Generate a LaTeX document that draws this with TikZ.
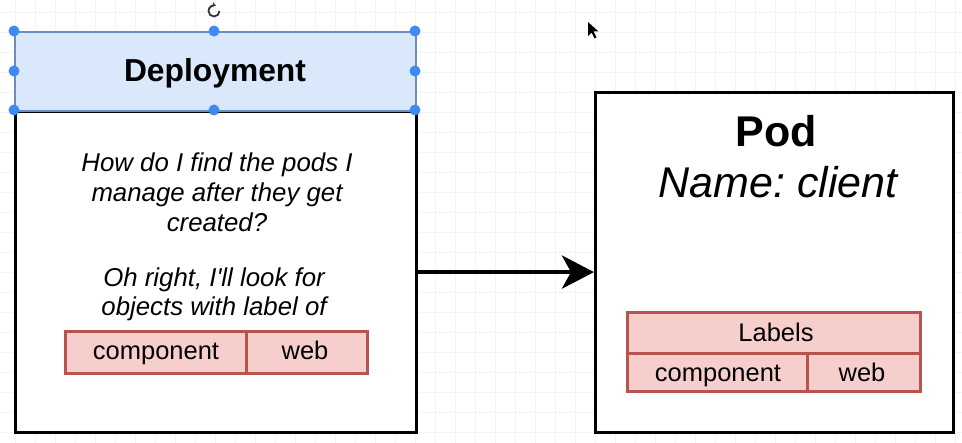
\documentclass[tikz,border=0pt]{standalone}
\usepackage{fontspec}
\setmainfont{Liberation Sans}
\usetikzlibrary{arrows.meta}
\definecolor{gridc}{HTML}{F3F3F3}
\definecolor{hdrfill}{HTML}{DAE8FC}
\definecolor{hdrline}{HTML}{6C8EBF}
\definecolor{handle}{HTML}{3D8BF2}
\definecolor{labfill}{HTML}{F6CFCC}
\definecolor{labline}{HTML}{B85450}
\tikzset{
  box/.style={draw=black, line width=3.2pt, fill=white, inner sep=0pt, anchor=north west},
  cell/.style={draw=labline, fill=labfill, line width=2.6pt, inner sep=0pt, anchor=north west},
  celltext/.style={anchor=base, inner sep=0pt, font=\fontsize{25.5}{30}\selectfont},
  bodytext/.style={anchor=base, inner sep=0pt, font=\fontsize{25.8}{30}\selectfont\itshape},
  hnd/.style={circle, fill=handle, inner sep=0pt, minimum size=11pt},
  bigarrow/.style={line width=4.8pt, -{Stealth[length=32pt, width=33pt, inset=9pt]}},
}
\begin{document}
\frenchspacing
\begin{tikzpicture}[x=1pt,y=-1pt]
\useasboundingbox (0,0) rectangle (962,443);
\fill[white] (0,0) rectangle (962,443);
% background grid
\foreach \gx in {15,35,...,955} \draw[gridc, line width=0.8pt] (\gx,0) -- (\gx,443);
\foreach \gy in {12,32,...,440} \draw[gridc, line width=0.8pt] (0,\gy) -- (962,\gy);

% Deployment
\node[box, minimum width=401pt, minimum height=321pt] (dbody) at (14,110) {};
\node[draw=hdrline, fill=hdrfill, line width=2pt, inner sep=0pt, anchor=north west,
      minimum width=401pt, minimum height=79pt] (dhead) at (14,31) {};
\node[anchor=base, inner sep=0pt, font=\fontsize{31.8}{36}\selectfont\bfseries] (dtitle) at (215,82) {Deployment};
\node[bodytext] (q1) at (217,172) {How do I find the pods I};
\node[bodytext] (q2) at (217,202) {manage after they get};
\node[bodytext] (q3) at (217,232) {created?};
\node[bodytext] (q4) at (214,287) {Oh right, I\textquotesingle ll look for};
\node[bodytext] (q5) at (214,316) {objects with label of};
\node[cell, minimum width=181pt, minimum height=42pt] (dcomp) at (64,330) {};
\node[cell, minimum width=121pt, minimum height=42pt] (dweb) at (245,330) {};
\node[celltext] (dcompt) at (156,360) {component};
\node[celltext] (dwebt) at (305,360) {web};

% selection handles
\foreach \hx/\hy [count=\i] in {14/31,214/31,415/31,14/71,415/71,14/110,214/110,415/110}
  \node[hnd] (h\i) at (\hx,\hy) {};
% rotate icon
\node[inner sep=0pt, minimum size=12pt] (rot) at (214,11) {};
\draw[line width=1.8pt, black!80, -{Stealth[length=4pt,width=5pt]}] (rot.center) ++(5.5,0) arc[start angle=0, end angle=290, radius=5.5];

% Pod
\node[box, minimum width=358pt, minimum height=340pt] (pod) at (594,91) {};
\node[anchor=base, inner sep=0pt, font=\fontsize{43}{48}\selectfont\bfseries] (podt) at (776,147) {Pod};
\node[anchor=base, inner sep=0pt, font=\fontsize{43}{48}\selectfont\itshape] (podn) at (778,198) {Name: client};
\node[cell, minimum width=293pt, minimum height=41pt] (plab) at (626,311) {};
\node[cell, minimum width=180pt, minimum height=38pt] (pcomp) at (626,352) {};
\node[cell, minimum width=113pt, minimum height=38pt] (pweb) at (806,352) {};
\node[celltext] (plabt) at (776,342) {Labels};
\node[celltext] (pcompt) at (718,382) {component};
\node[celltext] (pwebt) at (862,382) {web};

% arrow
\draw[bigarrow] (dbody.east) -- (dbody.east -| pod.west);

% cursor
\coordinate (cur) at (588,22);
\fill[black] (cur) -- ++(0,14) -- ++(3.5,-3.5) -- ++(3,6) -- ++(2,-1) -- ++(-3,-6) -- ++(5,0) -- cycle;
\end{tikzpicture}
\end{document}
